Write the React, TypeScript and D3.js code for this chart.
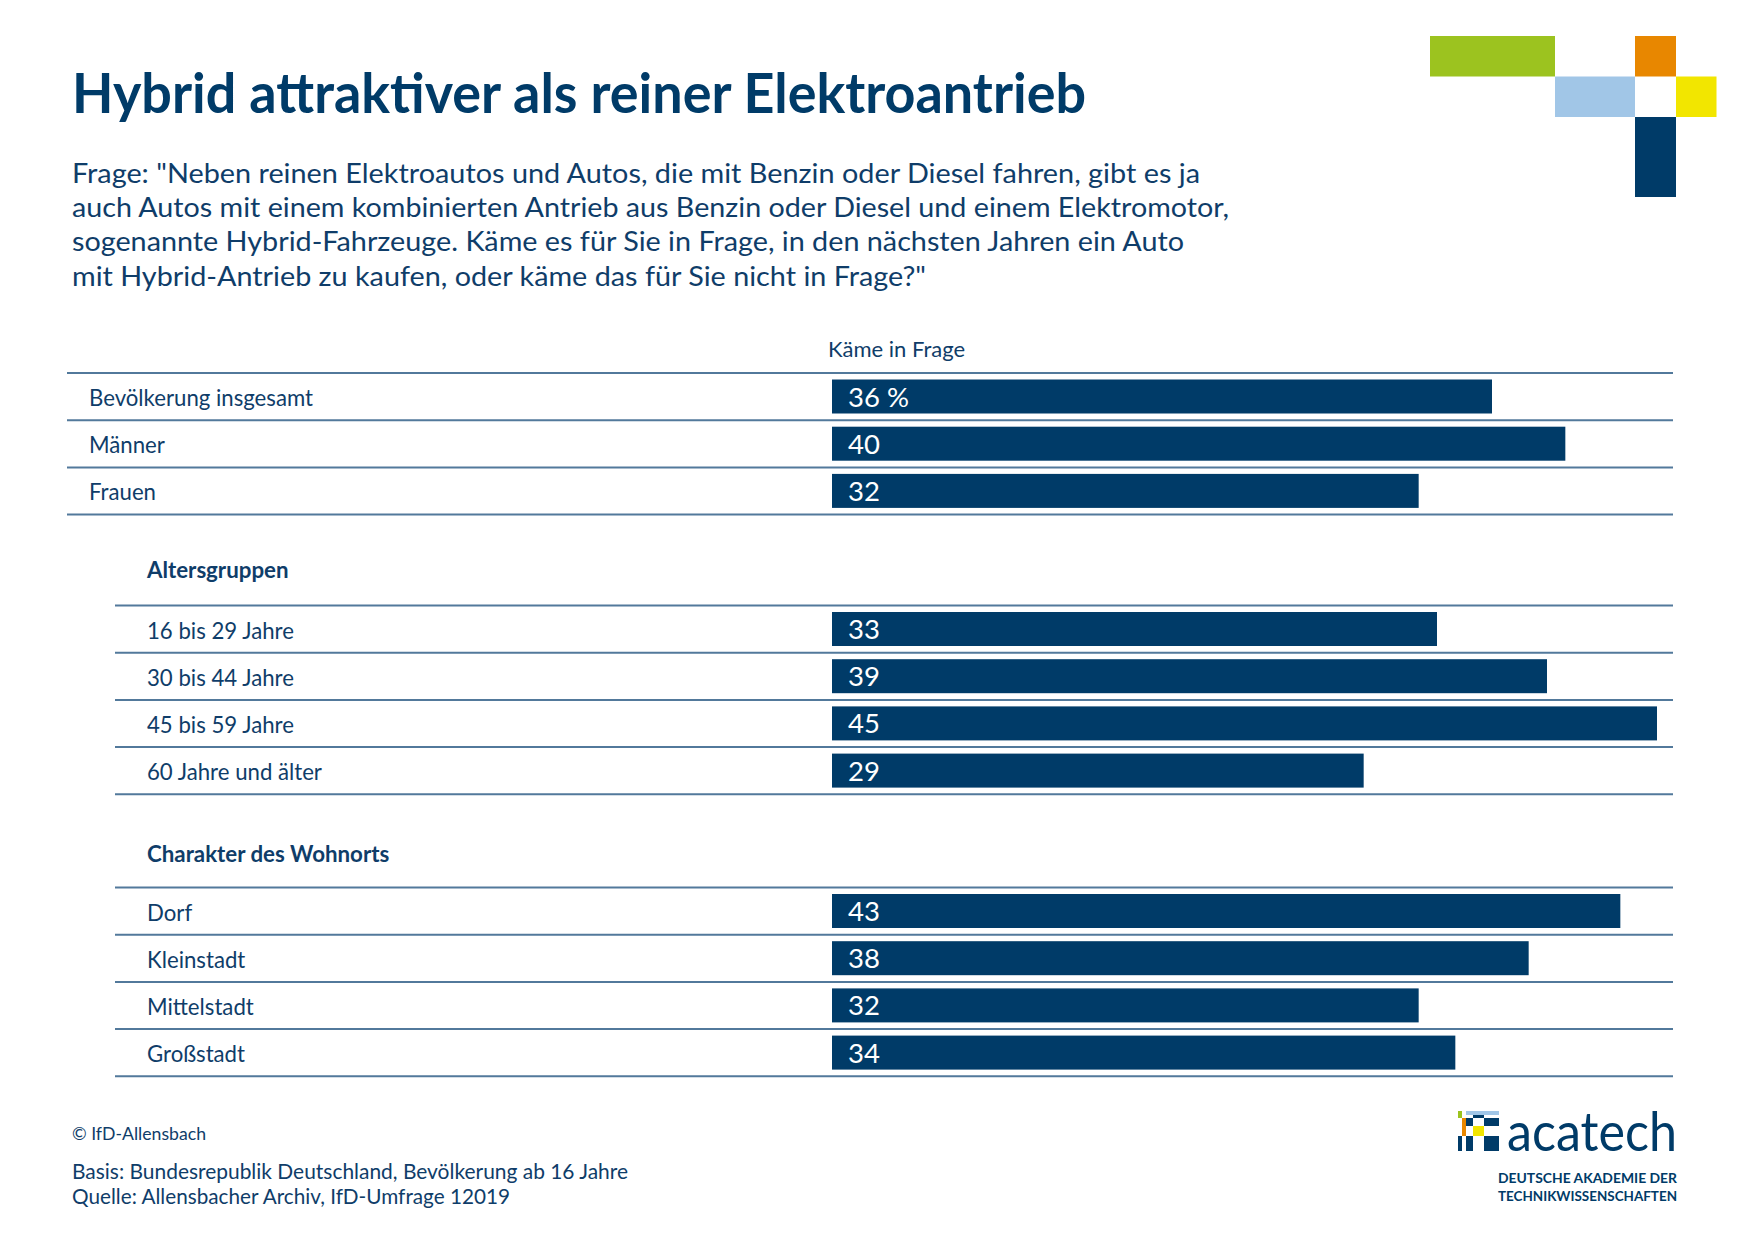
import React from "react";
import * as d3 from "d3";

const W = 1755;
const H = 1241;

const titleText = "Hybrid attraktiver als reiner Elektroantrieb";
const questionLines = [
  'Frage: "Neben reinen Elektroautos und Autos, die mit Benzin oder Diesel fahren, gibt es ja',
  "auch Autos mit einem kombinierten Antrieb aus Benzin oder Diesel und einem Elektromotor,",
  "sogenannte Hybrid-Fahrzeuge. Käme es für Sie in Frage, in den nächsten Jahren ein Auto",
  'mit Hybrid-Antrieb zu kaufen, oder käme das für Sie nicht in Frage?"',
];
const columnHeader = "Käme in Frage";

const totalLabels = ["Bevölkerung insgesamt", "Männer", "Frauen"];
const totalValues = [36, 40, 32];

const ageTitle = "Altersgruppen";
const ageLabels = ["16 bis 29 Jahre", "30 bis 44 Jahre", "45 bis 59 Jahre", "60 Jahre und älter"];
const ageValues = [33, 39, 45, 29];

const placeTitle = "Charakter des Wohnorts";
const placeLabels = ["Dorf", "Kleinstadt", "Mittelstadt", "Großstadt"];
const placeValues = [43, 38, 32, 34];

const footerLines = [
  "© IfD-Allensbach",
  "Basis: Bundesrepublik Deutschland, Bevölkerung ab 16 Jahre",
  "Quelle: Allensbacher Archiv, IfD-Umfrage 12019",
];

const NAVY = "#003b68";
const TEXT = "#0f3d69";
const LINE = "#52799b";
const FONT = "Lato, 'Open Sans', sans-serif";

const ROW_H = 47.2;

export default function App() {
  const x = d3.scaleLinear().domain([0, 45]).range([832, 1657]);

  const groups = [
    { labels: totalLabels, values: totalValues, top: 373, lineX0: 67, labelX: 89, header: null as string | null, headerY: 0, pct: true },
    { labels: ageLabels, values: ageValues, top: 605.5, lineX0: 115, labelX: 147, header: ageTitle, headerY: 577.5, pct: false },
    { labels: placeLabels, values: placeValues, top: 887.5, lineX0: 115, labelX: 147, header: placeTitle, headerY: 862, pct: false },
  ];

  return (
    <svg
      width={W}
      height={H}
      viewBox={`0 0 ${W} ${H}`}
      style={{ position: "absolute", left: 0, top: 0, display: "block", background: "#fff" }}
      fontFamily={FONT}
    >
      <rect x={0} y={0} width={W} height={H} fill="#fff" />

      {/* decorative squares top right */}
      <rect x={1430} y={36} width={125} height={40.5} fill="#9cc31f" />
      <rect x={1555} y={76.5} width={80} height={40.5} fill="#a1c6e7" />
      <rect x={1635} y={36} width={41} height={40.5} fill="#e88700" />
      <rect x={1676} y={76.5} width={40.5} height={40.5} fill="#f2e600" />
      <rect x={1635} y={117} width={41} height={80} fill={NAVY} />

      {/* title */}
      <text x={72} y={113} fontSize={56} fontWeight={700} fill={NAVY} textLength={1014} lengthAdjust="spacingAndGlyphs">
        {titleText}
      </text>

      {/* question */}
      {questionLines.map((l, i) => (
        <text
          key={i}
          x={72}
          y={183 + i * 34.2}
          fontSize={27}
          fill={TEXT}
          textLength={[1128, 1157, 1112, 854][i]}
          lengthAdjust="spacingAndGlyphs"
        >
          {l}
        </text>
      ))}

      {/* column header */}
      <text x={828} y={357} fontSize={22} fill={TEXT}>
        {columnHeader}
      </text>

      {groups.map((g, gi) => {
        const y = d3
          .scaleBand<string>()
          .domain(g.labels)
          .range([g.top, g.top + g.labels.length * ROW_H]);
        const bounds = [...g.labels.map((l) => y(l) as number), g.top + g.labels.length * ROW_H];
        return (
          <g key={gi}>
            {g.header && (
              <text x={g.labelX} y={g.headerY} fontSize={22.3} fontWeight={700} fill={TEXT}>
                {g.header}
              </text>
            )}
            {bounds.map((b, bi) => (
              <line key={bi} x1={g.lineX0} x2={1673} y1={b} y2={b} stroke={LINE} strokeWidth={2} />
            ))}
            {g.labels.map((l, i) => {
              const yy = y(l) as number;
              return (
                <g key={l}>
                  <text x={g.labelX} y={yy + 33} fontSize={22.2} fill={TEXT}>
                    {l}
                  </text>
                  <rect x={x(0)} y={yy + 6.5} width={x(g.values[i]) - x(0)} height={34} fill={NAVY} />
                  <text x={x(0) + 16} y={yy + 33.5} fontSize={27.5} fill="#fff">
                    {g.pct && i === 0 ? `${g.values[i]} %` : `${g.values[i]}`}
                  </text>
                </g>
              );
            })}
          </g>
        );
      })}

      {/* footer */}
      <text x={72} y={1140} fontSize={17} fill={TEXT} textLength={134} lengthAdjust="spacingAndGlyphs">
        {footerLines[0]}
      </text>
      <text x={72} y={1179} fontSize={20.5} fill={TEXT} textLength={556} lengthAdjust="spacingAndGlyphs">
        {footerLines[1]}
      </text>
      <text x={72} y={1204} fontSize={20.5} fill={TEXT} textLength={438} lengthAdjust="spacingAndGlyphs">
        {footerLines[2]}
      </text>

      {/* acatech logo */}
      <g>
        <rect x={1458} y={1111} width={4} height={7} fill="#9cc31f" />
        <rect x={1466} y={1111} width={33} height={4} fill="#a1c6e7" />
        <rect x={1473} y={1115} width={11} height={3} fill={NAVY} />
        <rect x={1462} y={1118} width={4} height={18} fill="#e88700" />
        <rect x={1466} y={1118} width={7} height={8} fill={NAVY} />
        <rect x={1473} y={1126} width={11} height={10} fill="#f2e600" />
        <rect x={1484} y={1118} width={15} height={8} fill={NAVY} />
        <rect x={1458} y={1136} width={4} height={15} fill={NAVY} />
        <rect x={1466} y={1136} width={7} height={15} fill={NAVY} />
        <rect x={1484} y={1136} width={15} height={15} fill={NAVY} />
        <text x={1507} y={1151} fontSize={55} fill={NAVY} textLength={170} lengthAdjust="spacingAndGlyphs">
          acatech
        </text>
        <text x={1498} y={1183} fontSize={12.5} fontWeight={700} fill={NAVY} textLength={179} lengthAdjust="spacingAndGlyphs">
          DEUTSCHE AKADEMIE DER
        </text>
        <text x={1498} y={1201} fontSize={12.5} fontWeight={700} fill={NAVY} textLength={179} lengthAdjust="spacingAndGlyphs">
          TECHNIKWISSENSCHAFTEN
        </text>
      </g>
    </svg>
  );
}
